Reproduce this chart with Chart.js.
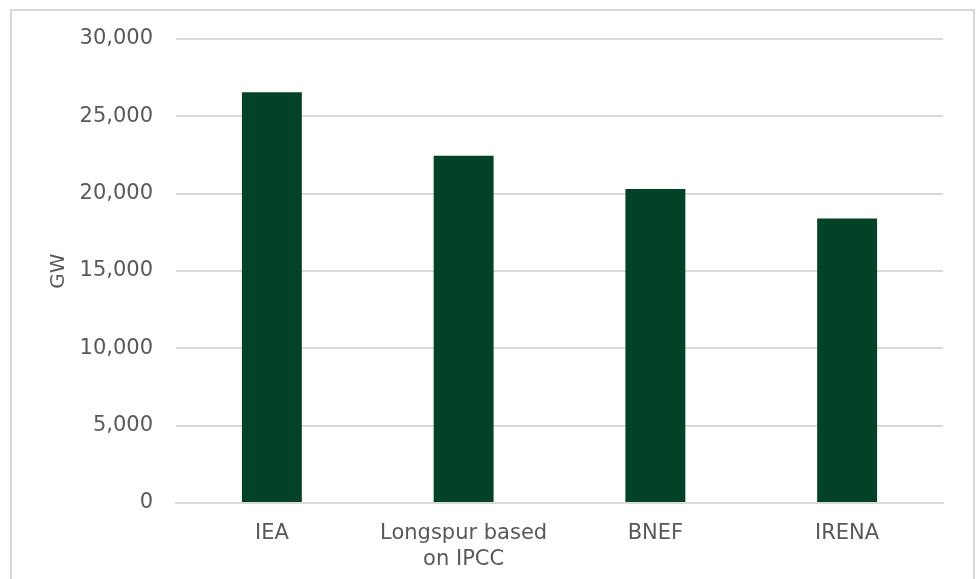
<!DOCTYPE html>
<html>
<head>
<meta charset="utf-8">
<script src="https://cdn.jsdelivr.net/npm/chart.js@4"></script>
<style>
  body { margin: 0; background: #fff; }
  #caja { position: absolute; left: 0; top: 0; width: 976px; height: 579px; }
  #marco { position: absolute; left: 10px; top: 9px; width: 961px; height: 620px; border: 2px solid #d9d9d9; }
</style>
</head>
<body>
<div id="marco"></div>
<div id="caja"><canvas id="myChart"></canvas></div>
<script>
let categorias = ['IEA', ['Longspur based', 'on IPCC'], 'BNEF', 'IRENA']
let valores = [26550, 22450, 20300, 18400]
let ticksY = [0, 5000, 10000, 15000, 20000, 25000, 30000]

let fuente = { family: 'DejaVu Sans', size: 21, lineHeight: 1.22 }
let gris = '#595959'

let miGrafico = new Chart('myChart', {
  type: 'bar',
  data: {
    labels: categorias,
    datasets: [{
      label: 'GW',
      data: valores,
      backgroundColor: '#034226',
      borderWidth: 0,
      categoryPercentage: 1,
      barPercentage: 0.3125
    }]
  },
  options: {
    responsive: true,
    maintainAspectRatio: false,
    animation: false,
    layout: { padding: { left: 0, right: 33, top: 39, bottom: 0 } },
    plugins: {
      legend: { display: false },
      tooltip: { enabled: false }
    },
    scales: {
      x: {
        grid: { display: false, drawTicks: false },
        border: { display: true, color: '#d9d9d9', width: 2 },
        ticks: { color: gris, font: fuente, padding: 18, maxRotation: 0 },
        afterFit: function (s) { s.height = 76 }
      },
      y: {
        min: 0,
        max: 30000,
        afterBuildTicks: function (s) { s.ticks = ticksY.map(v => ({ value: v })) },
        grid: { color: '#d9d9d9', lineWidth: 2, drawTicks: false },
        border: { display: false },
        ticks: {
          color: gris,
          font: fuente,
          padding: 23,
          callback: v => v.toLocaleString('en-US')
        },
        title: {
          display: true,
          text: 'GW',
          color: gris,
          font: { family: 'DejaVu Sans', size: 20 },
          padding: { top: 47, bottom: 0 }
        },
        afterFit: function (s) { s.width = 176 }
      }
    }
  }
})
</script>
</body>
</html>
